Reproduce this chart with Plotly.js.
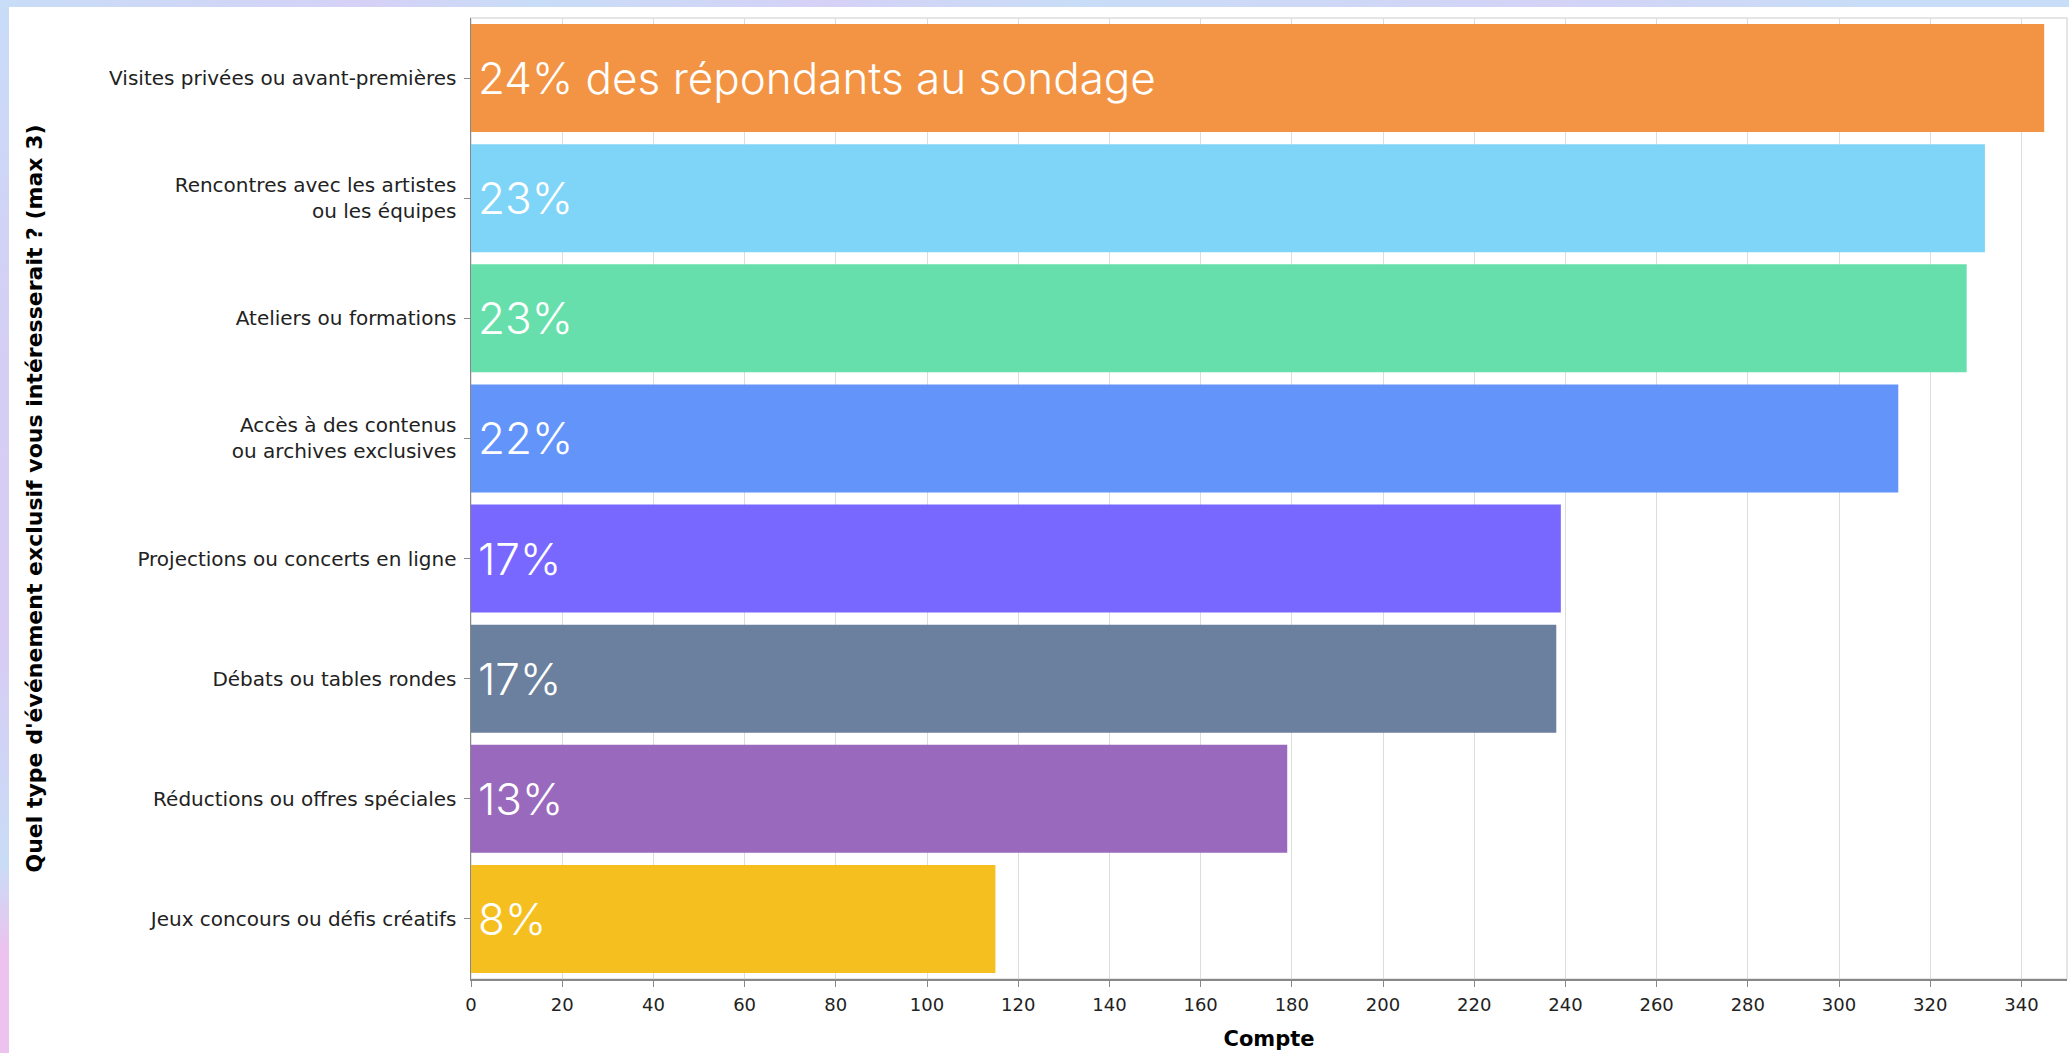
<!DOCTYPE html>
<html>
<head>
<meta charset="utf-8">
<script src="https://cdn.plot.ly/plotly-3.0.1.min.js"></script>
<style>
  html, body { margin: 0; padding: 0; }
  body {
    width: 2069px; height: 1053px; overflow: hidden; position: relative;
    background:
      linear-gradient(90deg, rgba(214,208,246,0) 0%, rgba(214,208,246,0.9) 18%, rgba(214,208,246,0) 26%, rgba(214,208,246,0.9) 40%, rgba(214,208,246,0) 52%, rgba(214,208,246,0.8) 75%, rgba(214,208,246,0) 90%),
      linear-gradient(180deg, #c8ddf7 0%, #d4cff4 30%, #d8ccf2 60%, #c9dcf6 82%, #ebc3ee 90%, #ecc2ee 100%);
  }
  #chart { position: absolute; left: 9px; top: 7px; width: 2060px; height: 1046px; background: #fff; }
</style>
</head>
<body>
<div id="chart"></div>
<script>
// categories (top to bottom) and counts
const categories = [
    "Visites privées ou avant-premières",
    "Rencontres avec les artistes<br>ou les équipes",
    "Ateliers ou formations",
    "Accès à des contenus<br>ou archives exclusives",
    "Projections ou concerts en ligne",
    "Débats ou tables rondes",
    "Réductions ou offres spéciales",
    "Jeux concours ou défis créatifs"
];
const counts = [345, 332, 328, 313, 239, 238, 179, 115];
const labels = ["24% des répondants au sondage", "23%", "23%", "22%", "17%", "17%", "13%", "8%"];
const colors = ["#f39444", "#7fd5f7", "#67dfad", "#6294f9", "#7868ff", "#6b7f9e", "#9969be", "#f5c01f"];

const trace = {
    type: "bar",
    orientation: "h",
    y: categories,
    x: counts,
    // hair space in front pushes the label a bit off the axis
    text: labels.map(s => "\u200A" + s),
    textposition: "inside",
    insidetextanchor: "start",
    constraintext: "none",
    textfont: { family: "Inter, sans-serif", size: 44, color: "#ffffff", weight: 300 },
    marker: { color: colors },
    hoverinfo: "none"
};

const layout = {
    width: 2060,
    height: 1046,
    margin: { l: 462, r: 2, t: 11, b: 74 },
    paper_bgcolor: "#ffffff",
    plot_bgcolor: "#ffffff",
    bargap: 0.1,
    showlegend: false,
    xaxis: {
        range: [0, 350],
        dtick: 20,
        tick0: 0,
        showgrid: true,
        gridcolor: "#dddddd",
        gridwidth: 1,
        zeroline: false,
        showline: true,
        linecolor: "#888888",
        linewidth: 1.5,
        ticks: "outside",
        ticklen: 6,
        tickcolor: "#888888",
        ticklabelstandoff: 3,
        tickfont: { family: "DejaVu Sans, sans-serif", size: 18, color: "#222" },
        title: { text: "Compte", font: { family: "DejaVu Sans, sans-serif", size: 21, color: "#000", weight: "bold" }, standoff: 17 }
    },
    yaxis: {
        autorange: "reversed",
        showgrid: false,
        zeroline: false,
        showline: true,
        linecolor: "#888888",
        linewidth: 1.5,
        ticks: "outside",
        ticklen: 6,
        tickcolor: "#888888",
        ticklabelstandoff: 3,
        tickfont: { family: "DejaVu Sans, sans-serif", size: 20, color: "#222" },
        title: { text: "Quel type d'événement exclusif vous intéresserait ? (max 3)", font: { family: "DejaVu Sans, sans-serif", size: 22, color: "#000", weight: "bold" }, standoff: 60 }
    },
    shapes: [{
        type: "rect", xref: "paper", yref: "paper", x0: 0, x1: 1, y0: 0, y1: 1,
        line: { color: "#dddddd", width: 1.5 }, layer: "below"
    }]
};

Plotly.newPlot("chart", [trace], layout, { staticPlot: true, displayModeBar: false });
</script>
</body>
</html>
